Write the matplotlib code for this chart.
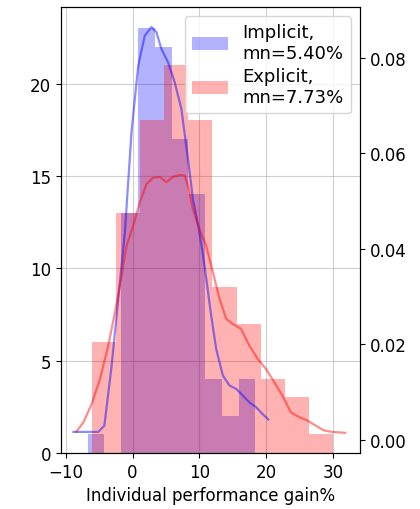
import numpy as np
import matplotlib
matplotlib.use("Agg")
import matplotlib.pyplot as plt

# histogram data (counts per bin)
implicit_edges = [-6.73, -4.22, -1.71, 0.80, 3.31, 5.83, 8.34, 10.85, 13.36, 15.87, 18.38]
implicit_counts = [1, 0, 13, 23, 22, 17, 14, 4, 2, 4]
explicit_edges = [-6.13, -2.52, 1.10, 4.71, 8.32, 11.94, 15.55, 19.16, 22.77, 26.39, 30.0]
explicit_counts = [6, 13, 18, 21, 18, 9, 7, 4, 3, 1]

# smoothed density curves (right axis)
implicit_x = [-8.84, -5.12, -4.22, -3.13, -2.14, -1.15, -0.16, 0.84, 1.83, 2.82, 3.57,
              4.31, 5.3, 6.3, 7.29, 8.28, 9.02, 10.0, 10.76, 11.75, 12.5, 13.5, 14.5,
              15.5, 16.5, 17.45, 18.45, 19.4, 20.3]
implicit_y = [0.0016, 0.0016, 0.0029, 0.0155, 0.0295, 0.0434, 0.0644, 0.0783, 0.0846,
              0.0864, 0.0853, 0.0818, 0.0790, 0.0748, 0.0693, 0.0588, 0.0504, 0.0434,
              0.0364, 0.0260, 0.0190, 0.0134, 0.0113, 0.0106, 0.0092, 0.0078, 0.0068,
              0.0054, 0.0042]
explicit_x = [-8.44, -7.35, -6.1, -4.87, -3.63, -2.63, -1.64, -0.89, 0.09, 1.09, 2.08,
              3.07, 4.06, 5.06, 6.05, 7.04, 7.78, 8.28, 9.02, 10.0, 11.0, 12.0, 13.0,
              13.99, 14.97, 16.2, 17.45, 18.7, 19.94, 21.2, 22.4, 23.66, 24.9, 26.1,
              27.4, 28.6, 29.85, 31.8]
explicit_y = [0.0016, 0.0036, 0.0075, 0.0127, 0.0197, 0.0267, 0.0343, 0.0406, 0.0448,
              0.0497, 0.0535, 0.0548, 0.0550, 0.0539, 0.0550, 0.0554, 0.0553, 0.0532,
              0.0483, 0.0441, 0.0406, 0.0351, 0.0295, 0.0253, 0.0242, 0.0232, 0.0197,
              0.0169, 0.0148, 0.0120, 0.0092, 0.0057, 0.0047, 0.0040, 0.0029, 0.0019,
              0.0016, 0.0014]

labels = ["Implicit,\nmn=5.40%", "Explicit,\nmn=7.73%"]

plt.rcParams['font.size'] = 12

fig = plt.figure(figsize=(4.2, 5.1), dpi=100)
ax = fig.add_axes([0.1445, 0.110, 0.7125, 0.8745])

# bars
ie = np.array(implicit_edges)
ee = np.array(explicit_edges)
b1 = ax.bar(ie[:-1], implicit_counts, width=np.diff(ie), align='edge',
            color='blue', alpha=0.3, linewidth=0, label=labels[0])
b2 = ax.bar(ee[:-1], explicit_counts, width=np.diff(ee), align='edge',
            color='red', alpha=0.3, linewidth=0, label=labels[1])
ax.grid(True, color='#b0b0b0', alpha=0.6)
ax.set_axisbelow(True)
ax.set_xlim(-10.75, 34.0)
ax.set_ylim(0, 24.15)
ax.set_xticks([-10, 0, 10, 20, 30])
ax.set_yticks([0, 5, 10, 15, 20])
ax.set_xlabel("Individual performance gain%")

# density curves on twin axis
ax2 = ax.twinx()
ax2.plot(implicit_x, implicit_y, color='blue', alpha=0.45, linewidth=1.6)
ax2.plot(explicit_x, explicit_y, color='red', alpha=0.45, linewidth=1.6)
ax2.set_ylim(-0.0028, 0.0906)
ax2.set_yticks([0.0, 0.02, 0.04, 0.06, 0.08])

ax2.legend([b1, b2], labels, loc='upper right', fontsize=13, labelspacing=0.3)

fig.savefig("out.png", dpi=100)
